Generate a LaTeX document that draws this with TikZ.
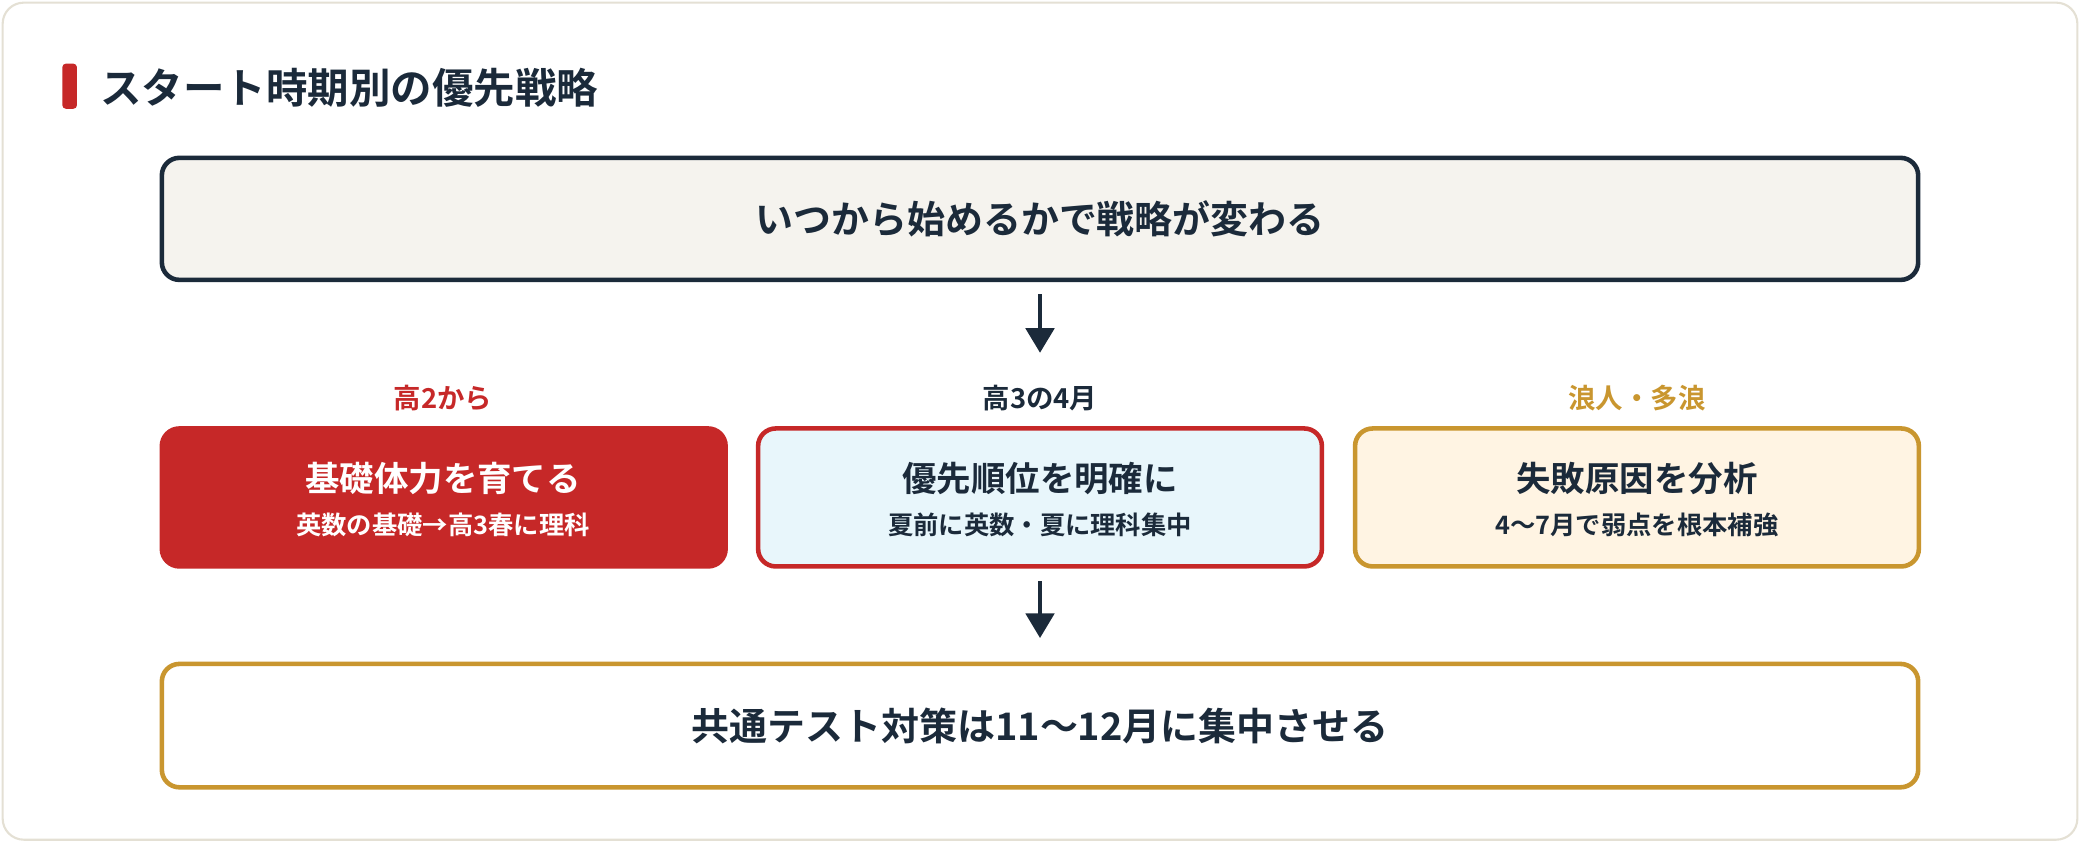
\documentclass[tikz,border=0pt]{standalone}
\usepackage{fontspec}
\setmainfont{Noto Sans CJK JP}[BoldFont={Noto Sans CJK JP Bold}]
\usetikzlibrary{arrows.meta}
\definecolor{navy}{HTML}{1B2A3A}
\definecolor{red1}{HTML}{C62828}
\definecolor{gold}{HTML}{C9962F}
\definecolor{bg1}{HTML}{F5F3EE}
\definecolor{blue1}{HTML}{E8F6FB}
\definecolor{cream}{HTML}{FFF4E3}
\definecolor{card}{HTML}{E4E0D4}
\begin{document}
\begin{tikzpicture}[x=0.013265cm,y=-0.013265cm,
  box/.style={draw, line width=1.3pt, rounded corners=5pt},
  arr/.style={draw=navy, line width=1.3pt, -{Triangle[length=7pt,width=8pt]}},
  big/.style={font=\bfseries\fontsize{10.8}{13}\selectfont, text=navy},
  ttl/.style={font=\bfseries\fontsize{9.8}{12}\selectfont},
  sub/.style={font=\bfseries\fontsize{7.2}{9}\selectfont},
  lab/.style={font=\bfseries\fontsize{7.8}{9}\selectfont}]
\useasboundingbox (0,0) rectangle (1568,635);
\draw[card, line width=0.6pt, fill=white, rounded corners=6pt] (2,2) rectangle (1566,633);
\fill[red1, rounded corners=1pt] (47,48) rectangle (58,82);
\node[anchor=west, inner sep=0pt, font=\bfseries\fontsize{11.8}{14}\selectfont, text=navy] (title) at (75,66) {スタート時期別の優先戦略};
\node[box, draw=navy, fill=bg1, minimum width=1324*0.013265cm, minimum height=92*0.013265cm, big] (top) at (784,165) {いつから始めるかで戦略が変わる};
\coordinate (a1s) at (784,222); \coordinate (a1e) at (784,266);
\draw[arr] (a1s) -- (a1e);
\node[lab, text=red1] (l1) at (334,300) {高2から};
\node[lab, text=navy] (l2) at (784,300) {高3の4月};
\node[lab, text=gold] (l3) at (1234,300) {浪人・多浪};
\tikzset{mid/.style={box, minimum width=425*0.013265cm, minimum height=104*0.013265cm}}
\node[mid, draw=red1, fill=red1] (b1) at (334.5,375) {};
\node[mid, draw=red1, fill=blue1] (b2) at (784,375) {};
\node[mid, draw=gold, fill=cream] (b3) at (1234,375) {};
\node[ttl, text=white] (t1) at (334,361) {基礎体力を育てる};
\node[sub, text=white] (s1) at (334,396) {英数の基礎→高3春に理科};
\node[ttl, text=navy] (t2) at (784,361) {優先順位を明確に};
\node[sub, text=navy] (s2) at (784,396) {夏前に英数・夏に理科集中};
\node[ttl, text=navy] (t3) at (1234,361) {失敗原因を分析};
\node[sub, text=navy] (s3) at (1234,396) {4〜7月で弱点を根本補強};
\coordinate (a2s) at (784,438); \coordinate (a2e) at (784,481);
\draw[arr] (a2s) -- (a2e);
\node[box, draw=gold, fill=white, minimum width=1324*0.013265cm, minimum height=93*0.013265cm, big] (bot) at (784,547) {共通テスト対策は11〜12月に集中させる};
\end{tikzpicture}
\end{document}
